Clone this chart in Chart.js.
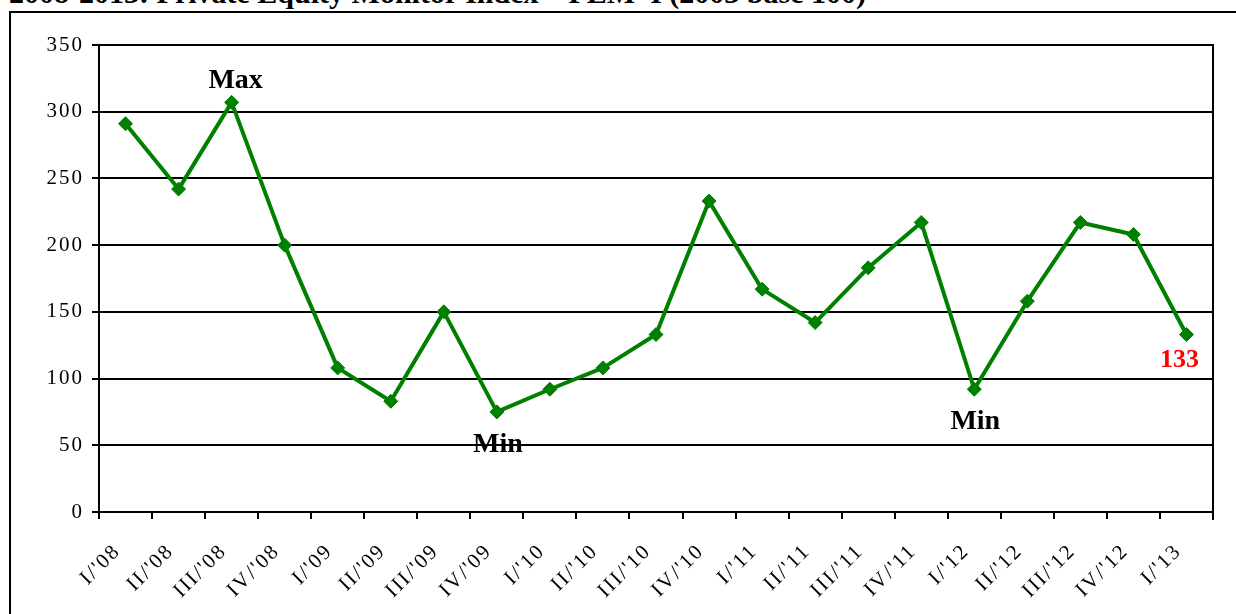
<!DOCTYPE html>
<html><head><meta charset="utf-8">
<script src="https://cdn.jsdelivr.net/npm/chart.js@4"></script>
<style>
html,body{margin:0;padding:0;background:#fff;overflow:hidden;width:1236px;height:614px;position:relative}
#frame{position:absolute;left:9px;top:11px;width:1400px;height:800px;border:2px solid #000;box-sizing:border-box}
#title{position:absolute;right:370px;top:-22px;white-space:nowrap;font:bold 30px "Liberation Serif";line-height:1;color:#000}
#wrap{position:absolute;left:0;top:0;width:1236px;height:614px}
</style></head>
<body>
<div id="frame"></div>
<div id="title">2008-2013: Private Equity Monitor Index – PEM*I (2003 base 100)</div>
<div id="wrap"><canvas id="c" width="1236" height="614"></canvas></div>
<script>
const categories = ["I/'08","II/'08","III/'08","IV/'08","I/'09","II/'09","III/'09","IV/'09","I/'10","II/'10","III/'10","IV/'10","I/'11","II/'11","III/'11","IV/'11","I/'12","II/'12","III/'12","IV/'12","I/'13"];
const pemValues = [291,242,307,200,108,83,150,75,92,108,133,233,167,142,183,217,92,158,217,208,133];
const yTickValues = [0,50,100,150,200,250,300,350];
const noteIndex = [2,7,16,20];
const noteText = ["Max","Min","Min","133"];
const notePlace = ["above","below","below","below"];

const tickSpacing = '2px';
const spacingPlugin = {
  id:'spacing',
  beforeLayout(chart){ chart.ctx.letterSpacing = tickSpacing; },
  beforeDraw(chart){ chart.ctx.letterSpacing = tickSpacing; }
};
const notesPlugin = {
  id:'notes',
  afterDraw(chart){
    const ctx = chart.ctx;
    const a = chart.chartArea;
    ctx.save();
    ctx.letterSpacing = '0px';
    ctx.strokeStyle = '#000';
    ctx.lineWidth = 2;
    ctx.beginPath();
    ctx.moveTo(a.right, a.top - 1);
    ctx.lineTo(a.right, a.bottom + 8);
    ctx.stroke();
    const meta = chart.getDatasetMeta(0);
    ctx.textAlign = 'center';
    ctx.textBaseline = 'alphabetic';
    noteIndex.forEach((idx, k) => {
      const p = meta.data[idx];
      const t = noteText[k];
      const isValue = /^\d+$/.test(t);
      ctx.font = isValue ? 'bold 26px "Liberation Serif"' : 'bold 28px "Liberation Serif"';
      ctx.fillStyle = isValue ? '#ff0000' : '#000';
      let x = p.x, y;
      if (notePlace[k] === 'above') { y = p.y - 14; x += 4; }
      else if (isValue) { y = p.y + 32; x -= 7; }
      else { y = p.y + 40; x += 1; }
      ctx.fillText(t, x, y);
    });
    ctx.restore();
  }
};

new Chart(document.getElementById('c'), {
  type:'line',
  data:{
    labels: categories,
    datasets:[{
      data: pemValues,
      borderColor:'#008000',
      backgroundColor:'#008000',
      borderWidth:4,
      pointStyle:'rectRot',
      pointRadius:7,
      pointBorderWidth:1,
      pointBackgroundColor:'#008000',
      pointBorderColor:'#008000',
      tension:0,
      clip:false
    }]
  },
  options:{
    responsive:false,
    animation:false,
    devicePixelRatio:1,
    layout:{padding:{top:45,right:23,left:0,bottom:0}},
    plugins:{legend:{display:false},tooltip:{enabled:false},title:{display:false}},
    elements:{line:{borderJoinStyle:'round'}},
    scales:{
      x:{
        type:'category',
        offset:true,
        grid:{offset:true,drawOnChartArea:false,drawTicks:true,tickLength:7,color:'#000',lineWidth:2},
        border:{display:true,color:'#000',width:2},
        ticks:{color:'#000',font:{family:'"Liberation Serif"',size:21},maxRotation:45,minRotation:45,autoSkip:false,padding:20,labelOffset:-8},
        afterFit(s){ s.height = 102; }
      },
      y:{
        min:0,max:350,
        afterBuildTicks(s){ s.ticks = yTickValues.map(v=>({value:v})); },
        grid:{drawOnChartArea:true,drawTicks:true,tickLength:7,color:'#000',lineWidth:2},
        border:{display:true,color:'#000',width:2},
        ticks:{color:'#000',font:{family:'"Liberation Serif"',size:21},padding:8},
        afterFit(s){ s.width = 99; }
      }
    }
  },
  plugins:[spacingPlugin, notesPlugin]
});
</script>
</body></html>
